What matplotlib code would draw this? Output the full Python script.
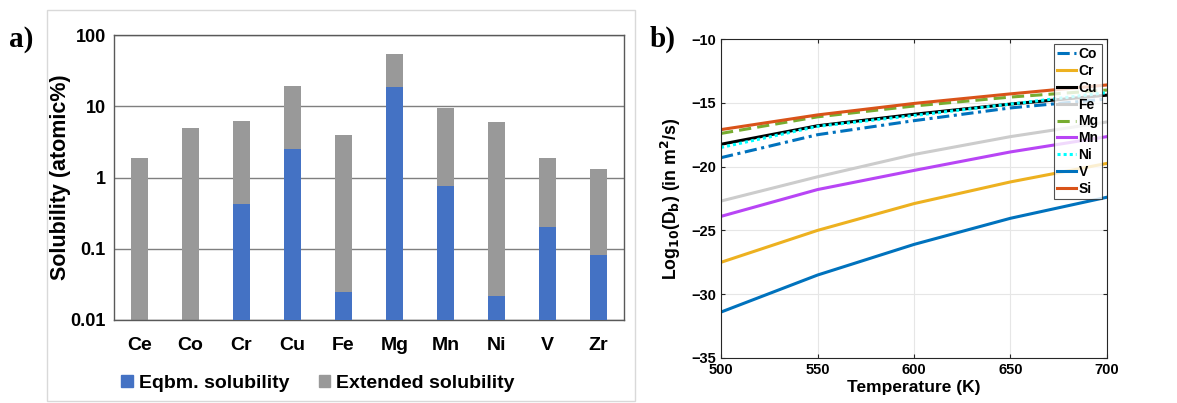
import matplotlib.pyplot as plt
from matplotlib.patches import Rectangle

# panel a data
elements = ["Ce", "Co", "Cr", "Cu", "Fe", "Mg", "Mn", "Ni", "V", "Zr"]
extended = [1.9, 5.0, 6.3, 19.5, 4.0, 55, 9.5, 6.0, 1.9, 1.3]
eqbm = [None, None, 0.43, 2.5, 0.025, 18.5, 0.77, 0.022, 0.2, 0.083]

# panel b data (log10 D_b read at these temperatures)
temps = [500, 550, 600, 650, 700]
diff_Co = [-19.3, -17.5, -16.4, -15.4, -14.7]
diff_Cr = [-27.5, -25.0, -22.9, -21.2, -19.75]
diff_Cu = [-18.25, -16.8, -15.9, -15.1, -14.4]
diff_Fe = [-22.7, -20.8, -19.05, -17.65, -16.5]
diff_Mg = [-17.4, -16.1, -15.25, -14.55, -14.0]
diff_Mn = [-23.9, -21.8, -20.3, -18.85, -17.65]
diff_Ni = [-18.5, -16.85, -16.0, -15.1, -14.2]
diff_V = [-31.4, -28.5, -26.1, -24.05, -22.4]
diff_Si = [-17.1, -15.95, -15.05, -14.3, -13.6]

plt.rcParams["font.family"] = "Liberation Sans"
plt.rcParams["font.weight"] = "bold"
plt.rcParams["mathtext.default"] = "bf"

fig = plt.figure(figsize=(11.77, 4.03), dpi=100)

# light frame around panel a
fig.patches.append(Rectangle((47 / 1177, 1 - 401 / 403), 588 / 1177, 391 / 403,
                             transform=fig.transFigure, fill=False,
                             edgecolor="#d9d9d9", linewidth=1))

ax1 = fig.add_axes([0.0969, 0.206, 0.4333, 0.707])
x = list(range(len(elements)))
ax1.bar(x, [e - 0.01 for e in extended], bottom=0.01, width=0.33,
        color="#999999", zorder=2)
eq_x = [i for i, v in zip(x, eqbm) if v is not None]
eq_v = [v - 0.01 for v in eqbm if v is not None]
ax1.bar(eq_x, eq_v, bottom=0.01, width=0.33, color="#4472c4", zorder=3)
ax1.set_yscale("log")
ax1.set_ylim(0.01, 100)
ax1.set_xlim(-0.5, 9.5)
ax1.set_yticks([0.01, 0.1, 1, 10, 100])
ax1.set_yticklabels(["0.01", "0.1", "1", "10", "100"])
ax1.minorticks_off()
ax1.set_xticks(x)
ax1.set_xticklabels(elements, fontsize=14, fontweight="bold")
ax1.tick_params(axis="y", labelsize=13, length=0, pad=6)
ax1.tick_params(axis="x", length=0, pad=12)
ax1.yaxis.grid(True, color="#7f7f7f", linewidth=1, zorder=0)
ax1.set_axisbelow(True)
for s in ax1.spines.values():
    s.set_color("#595959")
    s.set_linewidth(1)
ax1.set_ylabel("Solubility (atomic%)", fontsize=15.5, fontweight="bold")
ax1.yaxis.set_label_coords(-0.085, 0.5)
handles = [Rectangle((0, 0), 1, 1, color="#4472c4"), Rectangle((0, 0), 1, 1, color="#999999")]
ax1.legend(handles, ["Eqbm. solubility", "Extended solubility"], ncol=2, frameon=False,
           loc="upper center", bbox_to_anchor=(0.40, -0.13), fontsize=14,
           handlelength=0.6, handleheight=0.6, handletextpad=0.3, columnspacing=1.5)
fig.text(0.008, 0.885, "a)", fontsize=21, fontweight="bold", family="Liberation Serif")

# panel b
ax2 = fig.add_axes([0.6126, 0.1117, 0.3279, 0.7915])
series = [
    ("Co", diff_Co, "#0072bd", (0, (4, 1.5, 1, 1.5))),
    ("Cr", diff_Cr, "#edb120", "-"),
    ("Cu", diff_Cu, "#000000", "-"),
    ("Fe", diff_Fe, "#cccccc", "-"),
    ("Mg", diff_Mg, "#77ac30", (0, (4, 2))),
    ("Mn", diff_Mn, "#b845f5", "-"),
    ("Ni", diff_Ni, "#00ffff", (0, (1, 1))),
    ("V", diff_V, "#0072bd", "-"),
    ("Si", diff_Si, "#d95319", "-"),
]
for name, vals, col, ls in series:
    ax2.plot(temps, vals, color=col, linestyle=ls, linewidth=2.2, label=name)
ax2.set_xlim(500, 700)
ax2.set_ylim(-35, -10)
ax2.set_xticks([500, 550, 600, 650, 700])
ax2.set_yticks([-35, -30, -25, -20, -15, -10])
ax2.grid(True, color="#e6e6e6", linewidth=0.8)
ax2.tick_params(labelsize=10.5, direction="in", length=3, color="#262626", top=True, right=True)
for s in ax2.spines.values():
    s.set_color("#262626")
    s.set_linewidth(0.8)
ax2.set_xlabel("Temperature (K)", fontsize=12.5, fontweight="bold", labelpad=2)
ax2.set_ylabel(r"Log$_{10}$(D$_{b}$) (in m$^{2}$/s)",
               fontsize=12.7, fontweight="bold", labelpad=6)
leg = ax2.legend(loc="upper right", handlelength=1.4, handletextpad=0.15,
                 labelspacing=0.2, borderpad=0.25, borderaxespad=0.35, fancybox=False,
                 prop={"weight": "bold", "size": 10})
leg.get_frame().set_edgecolor("#262626")
leg.get_frame().set_linewidth(0.8)
fig.text(0.552, 0.885, "b)", fontsize=21, fontweight="bold", family="Liberation Serif")

fig.savefig("out.png", dpi=100)
